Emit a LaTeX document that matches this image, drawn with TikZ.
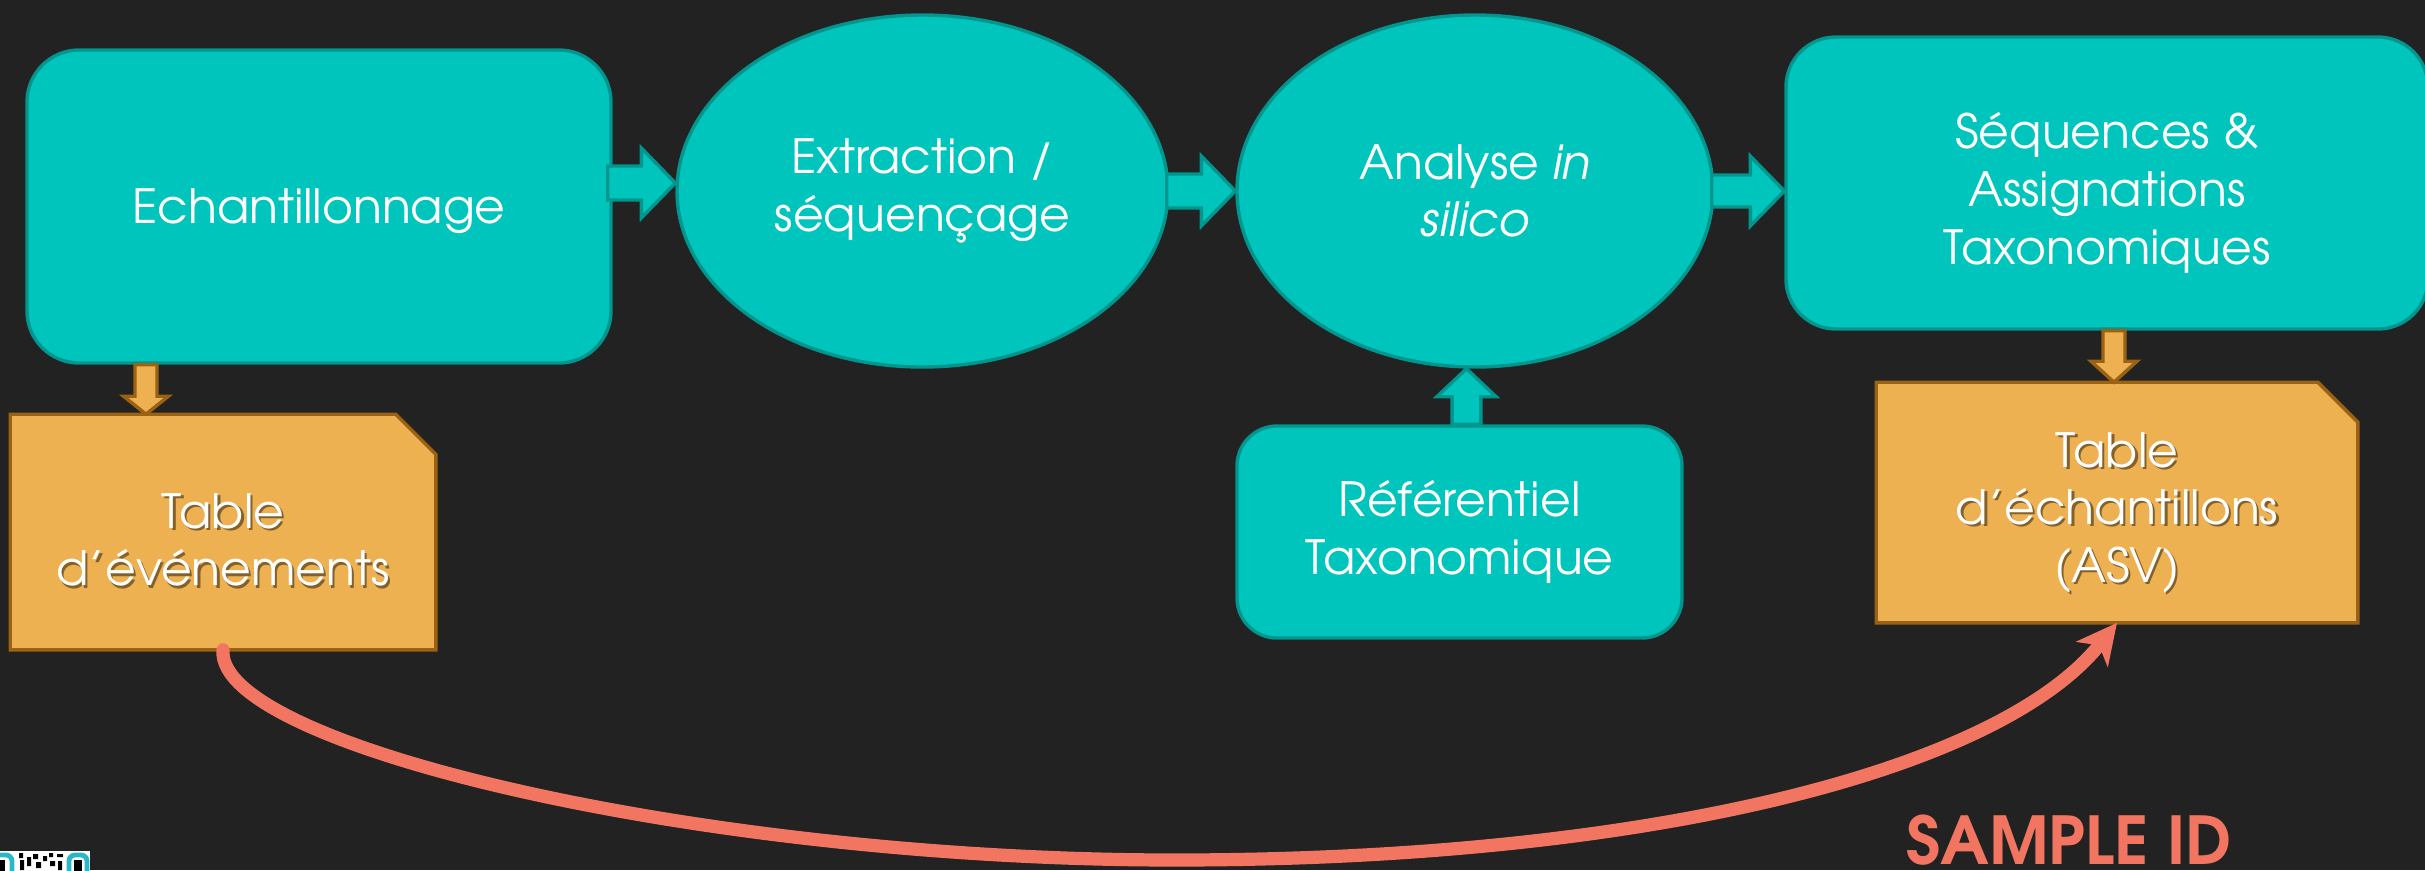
\documentclass[tikz,border=0pt]{standalone}
\usepackage{fontspec}
\setmainfont{TeX Gyre Adventor}
\usetikzlibrary{shapes.geometric,arrows.meta,calc}

\definecolor{bgdark}{HTML}{222222}
\definecolor{tealfill}{HTML}{00C5BC}
\definecolor{tealline}{HTML}{00958D}
\definecolor{orfill}{HTML}{EEB152}
\definecolor{orline}{HTML}{9A6212}
\definecolor{salmon}{HTML}{F17561}
\definecolor{qrteal}{HTML}{2AB8C6}

% block arrows between two points (lengths in pt)
\newcommand{\blockright}[6]{%
  \draw[#1] let \p1=(#2), \p2=(#3) in
    (\x1,\y2+#4) -- (\x2-#6,\y2+#4) -- (\x2-#6,\y2+#5) -- (\x2,\y2)
    -- (\x2-#6,\y2-#5) -- (\x2-#6,\y2-#4) -- (\x1,\y2-#4) -- cycle;}
\newcommand{\blockdown}[6]{%
  \draw[#1] let \p1=(#2), \p2=(#3) in
    (\x2-#4,\y1) -- (\x2-#4,\y2+#6) -- (\x2-#5,\y2+#6) -- (\x2,\y2)
    -- (\x2+#5,\y2+#6) -- (\x2+#4,\y2+#6) -- (\x2+#4,\y1) -- cycle;}
\newcommand{\blockup}[6]{%
  \draw[#1] let \p1=(#2), \p2=(#3) in
    (\x2-#4,\y1) -- (\x2-#4,\y2-#6) -- (\x2-#5,\y2-#6) -- (\x2,\y2)
    -- (\x2+#5,\y2-#6) -- (\x2+#4,\y2-#6) -- (\x2+#4,\y1) -- cycle;}

\begin{document}
\begin{tikzpicture}[x=0.25pt,y=-0.25pt,
  txt/.style={text=white,align=center,font=\fontsize{11.8}{14.4}\selectfont},
  tealbox/.style={txt,rectangle,draw=tealline,fill=tealfill,line width=0.85pt,inner sep=0pt},
  tealoval/.style={txt,ellipse,draw=tealline,fill=tealfill,line width=0.85pt,inner sep=0pt},
  docframe/.style={rectangle,inner sep=0pt},
  docshape/.style={draw=orline,fill=orfill,line width=0.85pt,line join=miter},
  doctext/.style={txt},
  docshadow/.style={align=center,font=\fontsize{11.8}{14.4}\selectfont,text=black,text opacity=0.45},
  tealarrow/.style={draw=tealline,fill=tealfill,line width=0.85pt,line join=miter},
  orarrow/.style={draw=orline,fill=orfill,line width=0.85pt,line join=miter},
  link/.style={draw=salmon,line width=3.3pt,line cap=round,
    -{Stealth[length=10pt,width=10pt,inset=2.8pt]}},
  tag/.style={text=salmon,font=\bfseries\fontsize{16.5}{18}\selectfont,inner sep=0pt}
]
\useasboundingbox (0,0) rectangle (2425,870);
\fill[bgdark] (0,0) rectangle (2425,870);

% process steps
\node[tealbox,rounded corners=13pt,minimum width=146pt,minimum height=78.25pt]
  (echant) at (319,206.5) {};
\node[txt] (echanttext) at ([yshift=-1.2pt]echant.center) {Echantillonnage};
\node[tealoval,minimum width=122.75pt,minimum height=88pt]
  (extract) at (922.5,191) {Extraction /\\séquençage};
\node[tealoval,minimum width=119pt,minimum height=88pt]
  (analyse) at (1475,191) {Analyse \textit{in}\\\textit{silico}};
\node[tealbox,rounded corners=12.5pt,minimum width=160.5pt,minimum height=73pt]
  (seq) at (2107,183) {};
\node[txt] (seqtext) at ([yshift=-2.5pt]seq.center) {Séquences \&\\Assignations\\Taxonomiques};
\node[tealbox,rounded corners=10pt,minimum width=111.25pt,minimum height=53pt]
  (refer) at (1459.5,532) {Référentiel\\Taxonomique};

% output tables (clipped top-right corner)
\node[docframe,minimum width=106pt,minimum height=58.5pt] (events) at (223,532) {};
\path[docshape] (events.south west) -- (events.north west)
  -- ([xshift=-10pt]events.north east) -- ([yshift=-10pt]events.north east)
  -- (events.south east) -- cycle;
\node[docshadow] at ([xshift=0.55pt,yshift=-2.55pt]events.center) {Table\\d’événements};
\node[doctext] (eventstext) at ([yshift=-2pt]events.center) {Table\\d’événements};

\node[docframe,minimum width=120pt,minimum height=59.75pt] (samples) at (2117,502.5) {};
\path[docshape] (samples.south west) -- (samples.north west)
  -- ([xshift=-10pt]samples.north east) -- ([yshift=-10pt]samples.north east)
  -- (samples.south east) -- cycle;
\node[docshadow] at ([xshift=0.55pt,yshift=-3.05pt]samples.center) {Table\\d’échantillons\\(ASV)};
\node[doctext] (samplestext) at ([yshift=-2.5pt]samples.center) {Table\\d’échantillons\\(ASV)};

% block arrows
\coordinate (downL) at (146,0);
\coordinate (upM) at (1466.5,0);
\coordinate (downR) at (2114,0);
\blockright{tealarrow}{[xshift=-1.25pt]echant.east}{[yshift=2pt]extract.west}{4.25pt}{8.75pt}{8.5pt}
\blockright{tealarrow}{[xshift=-0.75pt]extract.east}{analyse.west}{4.25pt}{8.75pt}{8.5pt}
\blockright{tealarrow}{[xshift=-0.75pt]analyse.east}{seq.west |- analyse.east}{4pt}{8.75pt}{8.5pt}
\blockup{tealarrow}{upM |- refer.north}{upM |- analyse.south}{3.6pt}{7.4pt}{7pt}
\blockdown{orarrow}{downL |- echant.south}{downL |- events.north}{2.75pt}{5.6pt}{4.5pt}
\blockdown{orarrow}{downR |- seq.south}{downR |- samples.north}{2.75pt}{5.75pt}{5.25pt}

% sample identifier link
\draw[link] (events.south) .. controls (215,745) and (700,860) .. (1175,860)
  .. controls (1650,860) and (2000,770) .. (samples.south);
\node[tag,anchor=base west] (sampleid) at (1906,864) {SAMPLE ID};

% code fragment in the lower-left corner
\fill[white] (0,851) rectangle (90,870);
\draw[qrteal,line width=1.2pt,rounded corners=1.5pt] (-10,855) rectangle (12,880);
\fill[black] (-5,860) rectangle (5,875);
\draw[qrteal,line width=1.2pt,rounded corners=1.5pt] (69,855) rectangle (87,880);
\fill[black] (74,860) rectangle (82,875);
\fill[black] (19,853) rectangle (23,858) (20,860) rectangle (24,870)
  (27,857) rectangle (31,866) (33,854) rectangle (38,859) (36,862) rectangle (41,868)
  (43,856) rectangle (47,861) (49,853) rectangle (53,857) (50,861) rectangle (55,866)
  (57,854) rectangle (63,857) (58,861) rectangle (62,870);
\end{tikzpicture}
\end{document}
